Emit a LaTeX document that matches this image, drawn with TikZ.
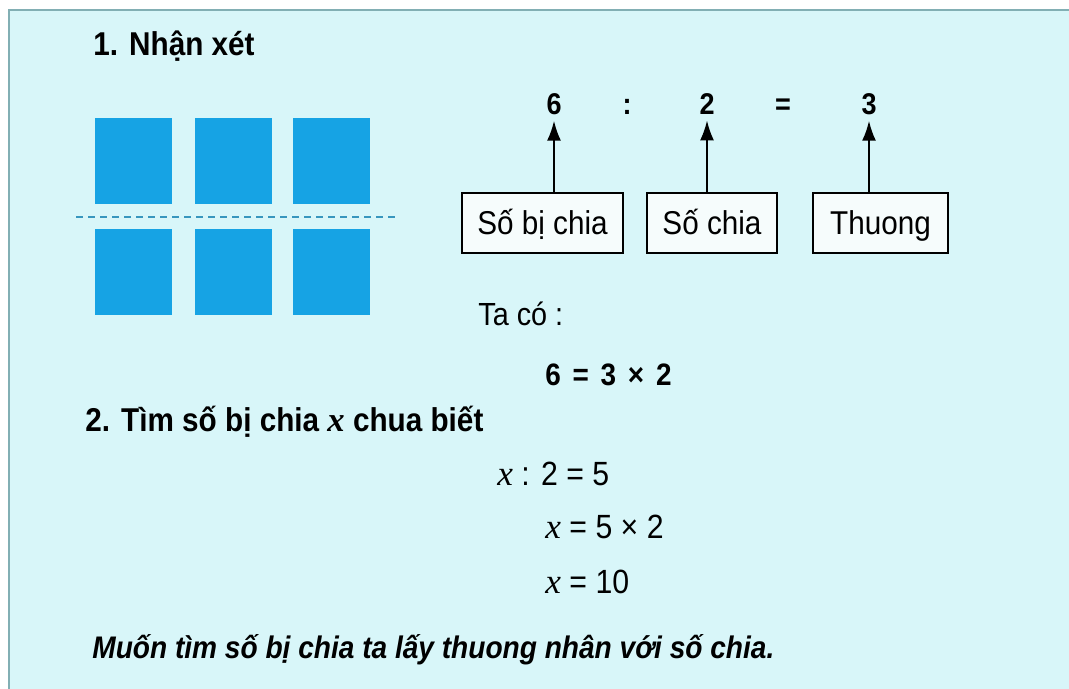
\documentclass[tikz,border=0pt]{standalone}
\usepackage{fontspec}
\setmainfont{Liberation Sans}[FakeStretch=0.9]
\newfontfamily\serifit{Liberation Serif}[Scale=1.05]
\usetikzlibrary{arrows.meta, positioning}
\definecolor{panelcol}{RGB}{216,246,249}
\definecolor{framecol}{RGB}{130,175,180}
\definecolor{squarecol}{RGB}{22,163,228}
\definecolor{dashcol}{RGB}{55,150,190}
\definecolor{boxcol}{RGB}{246,252,252}
\newcommand{\xv}{{\serifit\itshape x}}

\begin{document}
\begin{tikzpicture}[
			x=0.5pt, y=-0.5pt,
			heading/.style={
				anchor=base west,
				inner sep=0pt,
				font=\fontsize{16.5}{19}\selectfont\bfseries
			},
			plain/.style={
				anchor=base west,
				inner sep=0pt,
				font=\fontsize{16.8}{19}\selectfont
			},
			digit/.style={
				anchor=base,
				inner sep=2.5pt,
				font=\fontsize{15}{18}\selectfont\bfseries
			},
			namebox/.style={
				draw=black,
				fill=boxcol,
				line width=1pt,
				minimum height=30pt,
				text height=14pt,
				text depth=2pt,
				inner sep=0pt,
				font=\fontsize{16.5}{19}\selectfont
			},
			pointer/.style={
				-{Latex[length=10pt,width=7pt]},
				line width=1pt
			}
			]
			% Page and panel
			\useasboundingbox (0,0) rectangle (1069,689);
			\fill[white] (0,0) rectangle (1069,689);
			\fill[panelcol] (9,10) rectangle (1069,689);
			\draw[framecol, line width=0.9pt] (9,689) -- (9,10) -- (1069,10);
			
			% Part 1
			\node[heading] (head1) at (93,56) {1. Nhận xét};
			
			% Six squares cut by a dashed line
			\foreach \sx in {95,195,293} {
				\foreach \sy in {118,229} {
					\fill[squarecol] (\sx,\sy) rectangle ++(77,86);
				}
			}
			\draw[dashcol, line width=1pt, dash pattern=on 3.5pt off 2.5pt] (76,217) -- (396,217);
			
			% The division and its names
			\node[digit] (d6) at (554,115) {6};
			\node[digit] (dcol) at (627,115) {:};
			\node[digit] (d2) at (707,115) {2};
			\node[digit] (deq) at (783,115) {=};
			\node[digit] (d3) at (869,115) {3};
			
			\node[namebox, minimum width=80.5pt] (dividend) at (542.5,223) {Số bị chia};
			\node[namebox, minimum width=65pt] (divisor) at (712,223) {Số chia};
			\node[namebox, minimum width=67.5pt] (quotient) at (880.5,223) {Thuong};
			
			\draw[pointer] (d6 |- dividend.north) -- (d6.south);
			\draw[pointer] (d2 |- divisor.north) -- (d2.south);
			\draw[pointer] (d3 |- quotient.north) -- (d3.south);
			
			\node[anchor=base west, inner sep=0pt, font=\fontsize{16}{19}\selectfont]
				(taco) at (478,325) {Ta có :};
			\node[anchor=base west, inner sep=0pt, font=\fontsize{15.5}{18}\selectfont\bfseries]
				(product) at (545,385) {6\hspace{2pt} =\hspace{2pt} 3\hspace{2pt} ×\hspace{2pt} 2};
			
			% Part 2
			\node[heading] (head2) at (85,431) {2. Tìm số bị chia \xv\ chua biết};
			\node[plain] (eqa) at (497,485) {\xv\ : 2 = 5};
			\node[plain] (eqb) at (545,538) {\xv\ = 5 × 2};
			\node[plain] (eqc) at (545,593) {\xv\ = 10};
			
			% Rule
			\node[anchor=base west, inner sep=0pt, font=\fontsize{15.6}{18}\selectfont\bfseries\itshape]
				(rule) at (92,658) {Muốn tìm số bị chia ta lấy thuong nhân với số chia.};
		\end{tikzpicture}
\end{document}
